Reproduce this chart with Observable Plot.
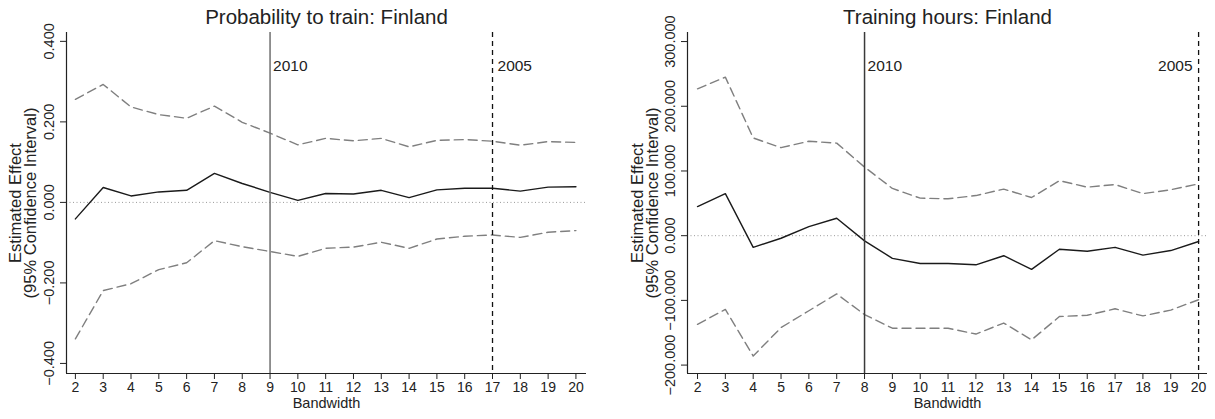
<!DOCTYPE html>
<html>
<head>
<meta charset="utf-8">
<script src="https://cdn.jsdelivr.net/npm/d3@7"></script>
<script src="https://cdn.jsdelivr.net/npm/@observablehq/plot@0.6"></script>
<style>
  html, body { margin: 0; padding: 0; background: #fff; }
  #wrap { position: relative; width: 1215px; height: 419px; overflow: hidden; }
  #left, #right { position: absolute; top: 0; }
  #left { left: 0; }
  #right { left: 600px; }
  svg { font-family: "Liberation Sans", Arial, sans-serif; }
</style>
</head>
<body>
<div id="wrap"><div id="left"></div><div id="right"></div></div>
<script>
// Bandwidth values (x)
const bandwidth = [2,3,4,5,6,7,8,9,10,11,12,13,14,15,16,17,18,19,20];

// Panel 1: Probability to train
const probEstimate = [-0.041,0.037,0.016,0.026,0.030,0.072,0.047,0.025,0.005,0.022,0.021,0.030,0.012,0.031,0.035,0.035,0.028,0.038,0.039];
const probUpper    = [0.256,0.293,0.237,0.218,0.209,0.239,0.199,0.172,0.143,0.159,0.153,0.159,0.138,0.154,0.156,0.152,0.142,0.151,0.149];
const probLower    = [-0.339,-0.219,-0.202,-0.167,-0.150,-0.095,-0.110,-0.122,-0.134,-0.114,-0.111,-0.099,-0.114,-0.091,-0.084,-0.081,-0.087,-0.074,-0.070];
const probYTicks   = [-0.4,-0.2,0,0.2,0.4];
const probMarkers  = [{bw: 9, label: "2010", kind: "solid"}, {bw: 17, label: "2005", kind: "dashed"}];

// Panel 2: Training hours
const hoursEstimate = [45,65,-18,-4,14,27,-8,-35,-43,-43,-45,-31,-52,-21,-24,-18,-30,-23,-9];
const hoursUpper    = [227,245,151,136,146,143,106,73,58,57,62,72,59,85,75,79,65,71,80];
const hoursLower    = [-137,-114,-186,-142,-116,-90,-122,-143,-143,-143,-152,-135,-161,-125,-123,-113,-124,-115,-99];
const hoursYTicks   = [-200,-100,0,100,200,300];
const hoursMarkers  = [{bw: 8, label: "2010", kind: "solid"}, {bw: 20, label: "2005", kind: "dashed"}];

const yLabel = "Estimated Effect\n(95% Confidence Interval)";

function panel({title, est, up, lo, yDomain, xDomain, yTicks, markers, width, marginLeft, marginRight, solidColor, labelEndLast, yLabelDx}) {
  const rows = bandwidth.map((b, i) => ({bw: b, est: est[i], up: up[i], lo: lo[i]}));
  const solid = markers.filter(m => m.kind === "solid");
  const dashed = markers.filter(m => m.kind === "dashed");
  const fmt = d3.format(".3f");
  return Plot.plot({
    width, height: 419,
    marginLeft, marginRight, marginTop: 32, marginBottom: 46,
    style: {fontFamily: "Liberation Sans, Arial, sans-serif", color: "#333", background: "#fff"},
    x: {domain: xDomain, ticks: bandwidth, tickFormat: d => d, label: null},
    y: {domain: yDomain, ticks: yTicks, tickFormat: fmt, label: null},
    marks: [
      Plot.ruleY([0], {stroke: "#9a9a9a", strokeDasharray: "1,2.5", strokeWidth: 1}),
      Plot.line(rows, {x: "bw", y: "up", stroke: "#7f7f7f", strokeWidth: 1.4, strokeDasharray: "9,5"}),
      Plot.line(rows, {x: "bw", y: "lo", stroke: "#7f7f7f", strokeWidth: 1.4, strokeDasharray: "9,5"}),
      Plot.line(rows, {x: "bw", y: "est", stroke: "#1a1a1a", strokeWidth: 1.4}),
      Plot.ruleX(solid, {x: "bw", stroke: solidColor, strokeWidth: 1.5}),
      Plot.ruleX(dashed, {x: "bw", stroke: "#111", strokeWidth: 1.3, strokeDasharray: "5,4"}),
      Plot.text(solid, {x: "bw", text: "label", frameAnchor: "top", dy: 27, dx: 3, textAnchor: "start", fontSize: 15.5, fill: "#222"}),
      Plot.text(dashed, {x: "bw", text: "label", frameAnchor: "top", dy: 27, dx: labelEndLast ? -6 : 5, textAnchor: labelEndLast ? "end" : "start", fontSize: 15.5, fill: "#222"}),
      Plot.ruleX([xDomain[0]], {stroke: "#222", strokeWidth: 1.2}),
      Plot.ruleY([yDomain[0]], {stroke: "#222", strokeWidth: 1.2}),
      Plot.axisX({ticks: bandwidth, tickFormat: d => d, tickSize: 6, tickPadding: 3, fontSize: 14, stroke: "#222", fill: "#222", label: null}),
      Plot.axisY({ticks: yTicks, tickFormat: fmt, tickSize: 6, tickPadding: 7, tickRotate: -90, fontSize: 14.5, stroke: "#222", fill: "#222", label: null}),
      Plot.text([title], {frameAnchor: "top", dy: -23.5, fontSize: 20.5, fill: "#222"}),
      Plot.text(["Bandwidth"], {frameAnchor: "bottom", dy: 34.5, fontSize: 14.5, fill: "#222"}),
      Plot.text([yLabel], {frameAnchor: "left", textAnchor: "middle", rotate: -90, dx: yLabelDx, fontSize: 16.5, lineHeight: 0.92, fill: "#222"})
    ]
  });
}

document.getElementById("left").appendChild(panel({
  title: "Probability to train: Finland",
  est: probEstimate, up: probUpper, lo: probLower,
  yDomain: [-0.425, 0.422], xDomain: [1.68, 20.38],
  yTicks: probYTicks, markers: probMarkers,
  width: 600, marginLeft: 66, marginRight: 14, solidColor: "#707070", labelEndLast: false, yLabelDx: -43
}));

document.getElementById("right").appendChild(panel({
  title: "Training hours: Finland",
  est: hoursEstimate, up: hoursUpper, lo: hoursLower,
  yDomain: [-213, 314], xDomain: [1.64, 20.32],
  yTicks: hoursYTicks, markers: hoursMarkers,
  width: 615, marginLeft: 87, marginRight: 8, solidColor: "#3a3a3a", labelEndLast: true, yLabelDx: -42
}));
</script>
</body>
</html>
